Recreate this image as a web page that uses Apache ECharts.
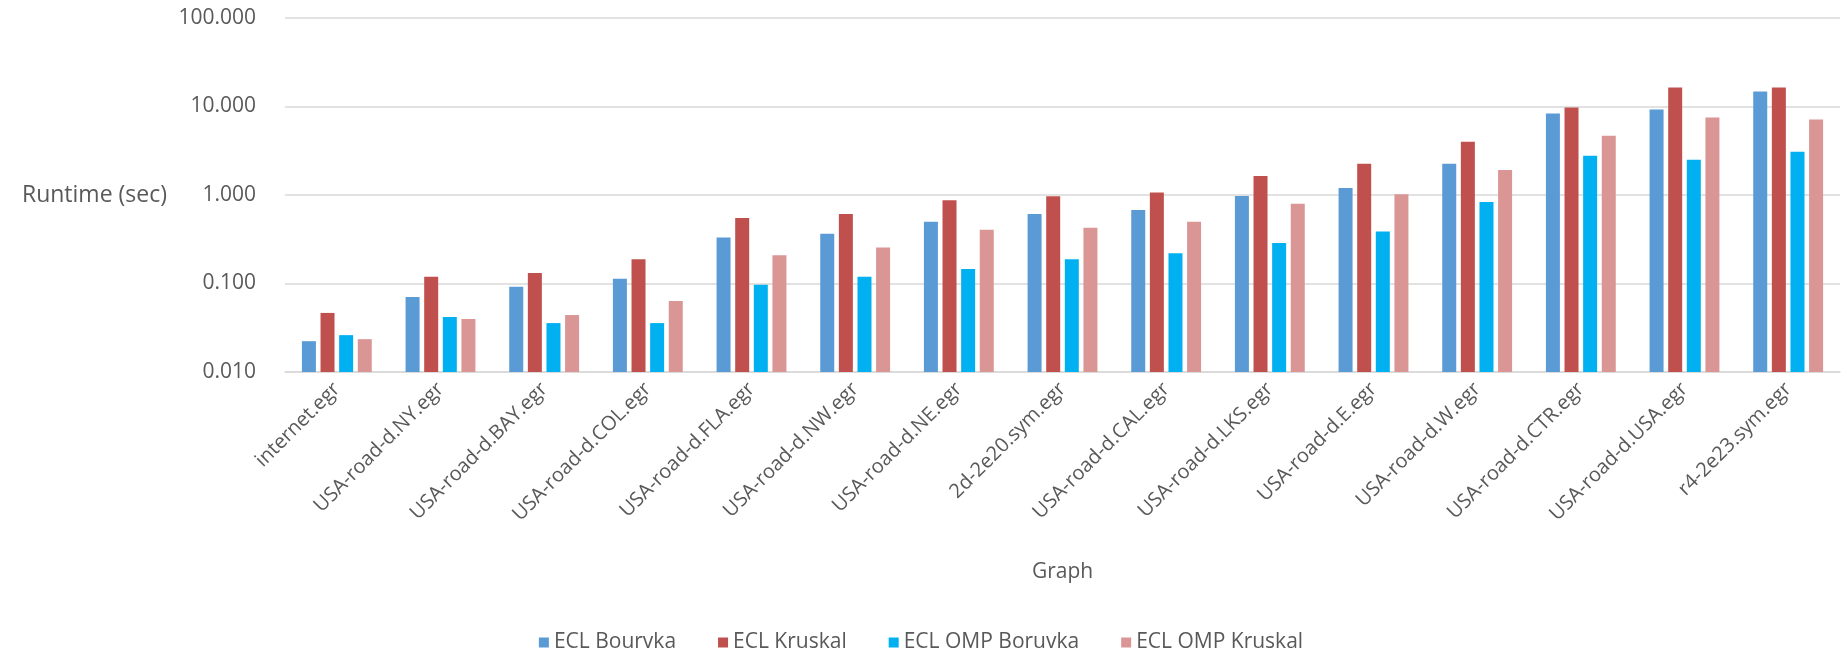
<!DOCTYPE html>
<html>
<head>
<meta charset="utf-8">
<script src="https://cdn.jsdelivr.net/npm/echarts@6/dist/echarts.min.js"></script>
<style>
html,body{margin:0;padding:0;background:#fff;}
#chart{width:1842px;height:662px;}
</style>
</head>
<body>
<div id="chart"></div>
<script>
const categories = ["internet.egr","USA-road-d.NY.egr","USA-road-d.BAY.egr","USA-road-d.COL.egr","USA-road-d.FLA.egr","USA-road-d.NW.egr","USA-road-d.NE.egr","2d-2e20.sym.egr","USA-road-d.CAL.egr","USA-road-d.LKS.egr","USA-road-d.E.egr","USA-road-d.W.egr","USA-road-d.CTR.egr","USA-road-d.USA.egr","r4-2e23.sym.egr"];
const eclBoruvka    = [0.0223,0.0705,0.0916,0.113,0.330,0.366,0.497,0.610,0.676,0.975,1.20,2.25,8.33,9.25,14.8];
const eclKruskal    = [0.0465,0.119,0.131,0.188,0.551,0.610,0.873,0.966,1.07,1.64,2.25,4.00,9.74,16.4,16.4];
const ompBoruvka    = [0.0261,0.0418,0.0357,0.0357,0.0966,0.119,0.146,0.188,0.219,0.286,0.388,0.836,2.77,2.50,3.08];
const ompKruskal    = [0.0235,0.0397,0.0440,0.0635,0.209,0.255,0.405,0.427,0.497,0.794,1.02,1.92,4.68,7.50,7.11];
const seriesNames = ["ECL Bourvka","ECL Kruskal","ECL OMP Boruvka","ECL OMP Kruskal"];
const colors = ["#5B9BD5","#C0504D","#00B0F0","#D99694"];

const FONT = "Open Sans";
const TXT = "#595959";
const chart = echarts.init(document.getElementById('chart'));
const data = [eclBoruvka, eclKruskal, ompBoruvka, ompKruskal];
chart.setOption({
  animation:false,
  color: colors,
  textStyle:{fontFamily:FONT,color:TXT},
  grid:{left:285,right:2,top:18,bottom:290,containLabel:false},
  legend:{
    bottom:4,left:'center',icon:'rect',itemWidth:10,itemHeight:10,itemGap:42,
    textStyle:{fontFamily:FONT,fontSize:21,color:TXT},
    data:seriesNames
  },
  xAxis:{
    type:'category',data:categories,
    name:'Graph',nameLocation:'middle',nameGap:190,
    nameTextStyle:{fontFamily:FONT,fontSize:21,color:TXT},
    axisLine:{show:true,lineStyle:{color:'#D9D9D9',width:1.5}},
    axisTick:{show:false},
    axisLabel:{interval:0,rotate:45,margin:14,fontFamily:FONT,fontSize:20,color:TXT}
  },
  yAxis:{
    type:'log',logBase:10,min:0.01,max:100,startValue:0.01,
    name:'Runtime (sec)',nameLocation:'middle',nameRotate:0,nameGap:118,
    nameTextStyle:{fontFamily:FONT,fontSize:23,color:TXT},
    axisLine:{show:false},axisTick:{show:false},
    splitLine:{show:true,lineStyle:{color:'#D9D9D9',width:1.5}},
    axisLabel:{margin:29,fontFamily:FONT,fontSize:21,color:TXT,formatter:v=>Number(v).toFixed(3)}
  },
  series: data.map((d,i)=>({
    name:seriesNames[i],type:'bar',data:d,
    barWidth:14,barGap:'33%',barCategoryGap:'32%',
    itemStyle:{color:colors[i]}
  }))
});
</script>
</body>
</html>
